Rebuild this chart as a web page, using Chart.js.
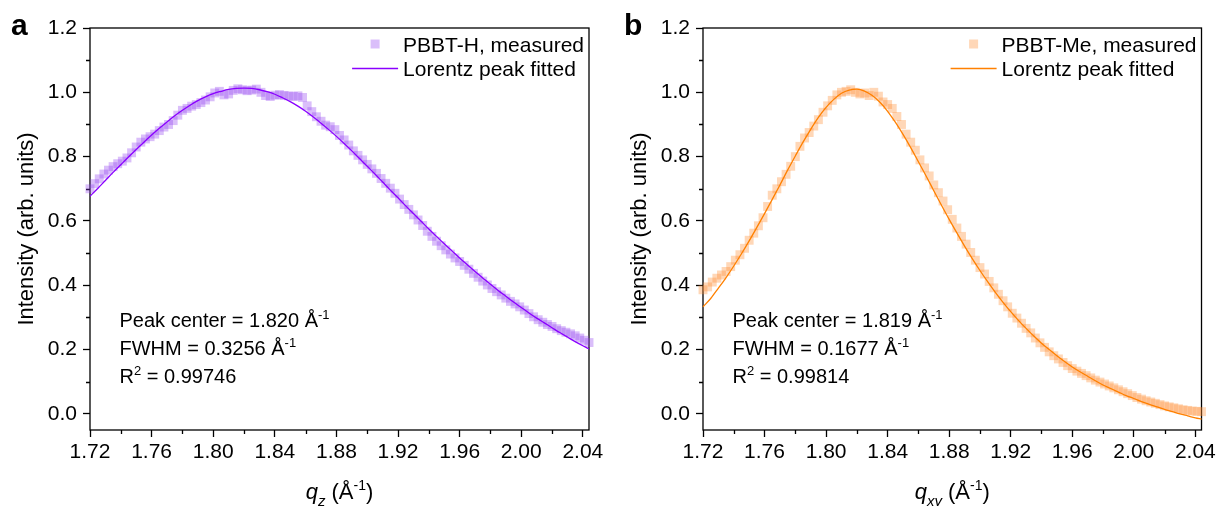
<!DOCTYPE html>
<html><head><meta charset="utf-8">
<script src="https://cdn.jsdelivr.net/npm/chart.js@4.4.1/dist/chart.umd.min.js"></script>
<style>
html,body{margin:0;padding:0;background:#fff;}
#wrap{position:relative;width:1219px;height:506px;background:#fff;}
canvas{position:absolute;top:0;}
</style></head><body>
<div id="wrap">
<canvas id="ca" width="610" height="506" style="left:0;width:610px;height:506px"></canvas>
<canvas id="cb" width="609" height="506" style="left:610px;width:609px;height:506px"></canvas>
</div>
<script>
// ---------- data ----------
const qMeasured = [1.720,1.723,1.726,1.729,1.732,1.735,1.738,1.741,1.744,1.747,1.750,1.753,1.756,1.759,1.762,1.765,1.768,1.771,1.774,1.777,1.780,1.783,1.786,1.789,1.792,1.795,1.798,1.801,1.804,1.807,1.810,1.813,1.816,1.819,1.822,1.825,1.828,1.831,1.834,1.837,1.840,1.843,1.846,1.849,1.852,1.855,1.858,1.861,1.864,1.867,1.870,1.873,1.876,1.879,1.882,1.885,1.888,1.891,1.894,1.897,1.900,1.903,1.906,1.909,1.912,1.915,1.918,1.921,1.924,1.927,1.930,1.933,1.936,1.939,1.942,1.945,1.948,1.951,1.954,1.957,1.960,1.963,1.966,1.969,1.972,1.975,1.978,1.981,1.984,1.987,1.990,1.993,1.996,1.999,2.002,2.005,2.008,2.011,2.014,2.017,2.020,2.023,2.026,2.029,2.032,2.035,2.038,2.041,2.044];
const pbbtH = [0.700,0.716,0.731,0.746,0.758,0.769,0.778,0.786,0.796,0.812,0.830,0.845,0.855,0.862,0.870,0.881,0.892,0.900,0.912,0.929,0.944,0.950,0.957,0.962,0.968,0.976,0.986,0.998,1.003,0.992,0.995,1.006,1.011,1.008,1.005,1.007,1.010,1.000,0.990,0.987,0.991,0.993,0.990,0.989,0.987,0.989,0.984,0.958,0.940,0.924,0.910,0.898,0.893,0.884,0.866,0.852,0.836,0.818,0.804,0.790,0.776,0.762,0.748,0.732,0.717,0.702,0.686,0.668,0.651,0.636,0.619,0.603,0.586,0.568,0.552,0.537,0.523,0.510,0.497,0.485,0.474,0.462,0.450,0.437,0.425,0.413,0.401,0.390,0.380,0.370,0.360,0.350,0.342,0.333,0.323,0.312,0.302,0.293,0.285,0.278,0.272,0.265,0.259,0.254,0.249,0.243,0.236,0.229,0.222];
const pbbtMe = [0.386,0.395,0.410,0.422,0.432,0.443,0.458,0.478,0.495,0.515,0.540,0.562,0.585,0.610,0.645,0.680,0.700,0.722,0.745,0.770,0.800,0.832,0.858,0.875,0.895,0.915,0.938,0.958,0.975,0.992,1.000,1.003,1.008,1.000,0.995,0.998,0.990,1.000,0.988,0.970,0.962,0.950,0.925,0.900,0.870,0.845,0.820,0.790,0.765,0.740,0.712,0.688,0.662,0.635,0.605,0.578,0.552,0.528,0.502,0.478,0.455,0.435,0.412,0.392,0.372,0.352,0.333,0.313,0.298,0.282,0.266,0.252,0.236,0.221,0.207,0.193,0.181,0.171,0.160,0.150,0.141,0.133,0.126,0.119,0.112,0.105,0.099,0.093,0.087,0.081,0.075,0.069,0.063,0.057,0.051,0.046,0.041,0.037,0.033,0.029,0.025,0.022,0.019,0.016,0.013,0.011,0.009,0.008,0.007];
const qFit = [1.720,1.725,1.730,1.735,1.740,1.745,1.750,1.755,1.760,1.765,1.770,1.775,1.780,1.785,1.790,1.795,1.800,1.805,1.810,1.815,1.820,1.825,1.830,1.835,1.840,1.845,1.850,1.855,1.860,1.865,1.870,1.875,1.880,1.885,1.890,1.895,1.900,1.905,1.910,1.915,1.920,1.925,1.930,1.935,1.940,1.945,1.950,1.955,1.960,1.965,1.970,1.975,1.980,1.985,1.990,1.995,2.000,2.005,2.010,2.015,2.020,2.025,2.030,2.035,2.040,2.044];
const fitH = [0.677,0.701,0.726,0.751,0.775,0.799,0.822,0.845,0.867,0.888,0.908,0.927,0.944,0.960,0.974,0.986,0.996,1.003,1.009,1.012,1.013,1.012,1.008,1.002,0.994,0.983,0.971,0.957,0.941,0.923,0.904,0.884,0.863,0.841,0.818,0.794,0.770,0.746,0.721,0.696,0.672,0.647,0.623,0.599,0.575,0.552,0.529,0.507,0.485,0.464,0.443,0.423,0.403,0.384,0.366,0.348,0.331,0.314,0.298,0.283,0.268,0.253,0.239,0.225,0.212,0.202];
const fitMe = [0.333,0.359,0.391,0.424,0.460,0.498,0.538,0.580,0.623,0.667,0.712,0.758,0.802,0.845,0.885,0.922,0.953,0.978,0.997,1.007,1.010,1.004,0.990,0.969,0.941,0.907,0.869,0.828,0.784,0.740,0.694,0.649,0.605,0.563,0.522,0.483,0.446,0.411,0.378,0.347,0.318,0.291,0.266,0.242,0.220,0.200,0.181,0.163,0.146,0.131,0.117,0.103,0.090,0.079,0.068,0.057,0.048,0.038,0.030,0.022,0.014,0.007,0.000,-0.006,-0.012,-0.016];
const xTicks = [1.72,1.76,1.80,1.84,1.88,1.92,1.96,2.00,2.04];
const xMinorTicks = [1.74,1.78,1.82,1.86,1.90,1.94,1.98,2.02];
const yTicks = [0.0,0.2,0.4,0.6,0.8,1.0,1.2];
const yMinorTicks = [0.1,0.3,0.5,0.7,0.9,1.1];
const xRange = [1.72, 2.044];
const yRange = [-0.05, 1.2];

// ---------- helpers ----------
const FAM = '"Liberation Sans", Arial, Helvetica, sans-serif';
function fontStr(s){ return (s.italic?'italic ':'')+(s.bold?'bold ':'')+s.size+'px '+FAM; }
function richWidth(ctx, segs){ let w=0; for(const s of segs){ ctx.font=fontStr(s); w+=ctx.measureText(s.t).width; } return w; }
function drawRich(ctx, segs, x, y){
  for(const s of segs){ ctx.font=fontStr(s); ctx.fillText(s.t, x, y+(s.dy||0)); x+=ctx.measureText(s.t).width; }
}
const sup = t => ({t, size:13, dy:-8});

function decorPlugin(cfg){
  return {
    id:'decor'+cfg.letter,
    beforeDatasetsDraw(chart){
      const ctx=chart.ctx, a=chart.chartArea, xs=chart.scales.x, ys=chart.scales.y;
      ctx.save();
      ctx.strokeStyle='#000'; ctx.lineWidth=1.3;
      ctx.strokeRect(a.left, a.top, a.right-a.left, a.bottom-a.top);
      // minor ticks
      ctx.beginPath();
      for(const v of xMinorTicks){ const p=Math.round(xs.getPixelForValue(v))+0.5; ctx.moveTo(p,a.bottom); ctx.lineTo(p,a.bottom+4); }
      for(const v of yMinorTicks){ const p=Math.round(ys.getPixelForValue(v))+0.5; ctx.moveTo(a.left,p); ctx.lineTo(a.left-4,p); }
      ctx.stroke();
      ctx.restore();
    },
    afterDraw(chart){
      const ctx=chart.ctx, a=chart.chartArea;
      ctx.save();
      ctx.fillStyle='#000'; ctx.textAlign='left'; ctx.textBaseline='alphabetic';
      // panel letter
      ctx.font='bold 30px '+FAM;
      ctx.fillText(cfg.letter, a.left-79, 35);
      // y title
      ctx.save();
      ctx.translate(a.left-57, (a.top+a.bottom)/2);
      ctx.rotate(-Math.PI/2);
      ctx.textAlign='center';
      ctx.font='22px '+FAM;
      ctx.fillText('Intensity (arb. units)', 0, 0);
      ctx.restore();
      // x title
      const xt=[{t:'q',size:22,italic:true},{t:cfg.sub,size:15,italic:true,dy:7},{t:' (Å',size:22},{t:'-1',size:14,dy:-9},{t:')',size:22}];
      const w=richWidth(ctx,xt);
      drawRich(ctx, xt, (a.left+a.right)/2 - w/2, 499);
      // annotations
      const ax=a.left+29.5;
      const lines=[
        [{t:'Peak center = '+cfg.center+' Å',size:20},sup('-1')],
        [{t:'FWHM = '+cfg.fwhm+' Å',size:20},sup('-1')],
        [{t:'R',size:20},{t:'2',size:13,dy:-8},{t:' = '+cfg.r2,size:20}]
      ];
      const bl=[327,355,383];
      lines.forEach((l,i)=>drawRich(ctx,l,ax,bl[i]));
      // legend
      const ds=chart.data.datasets;
      ctx.font='21px '+FAM;
      const maxW=Math.max(...ds.map(d=>ctx.measureText(d.label).width));
      const tx=a.right-5-maxW;
      const m=ds.find(d=>d.kind==='measured'), f=ds.find(d=>d.kind==='fit');
      ctx.fillStyle=m.backgroundColor;
      ctx.fillRect(tx-28-4.5, 44-4.5, 9, 9);
      ctx.fillStyle='#000';
      ctx.fillText(m.label, tx, 51.5);
      ctx.strokeStyle=f.borderColor; ctx.lineWidth=1.5;
      ctx.beginPath(); ctx.moveTo(tx-51,68.5); ctx.lineTo(tx-5,68.5); ctx.stroke();
      ctx.fillText(f.label, tx, 75.5);
      ctx.restore();
    }
  };
}

function makeChart(id, cfg){
  const measuredPts = qMeasured.map((q,i)=>({x:q,y:cfg.measured[i]}));
  const fitPts = qFit.map((q,i)=>({x:q,y:cfg.fit[i]}));
  const tickFont={family:FAM,size:21};
  return new Chart(document.getElementById(id),{
    type:'scatter',
    data:{datasets:[
      {kind:'fit',label:'Lorentz peak fitted',data:fitPts,showLine:true,pointRadius:0,borderColor:cfg.lineColor,borderWidth:1.3,cubicInterpolationMode:'monotone',order:0,clip:false},
      {kind:'measured',label:cfg.label,data:measuredPts,showLine:false,pointStyle:'rect',pointRadius:6.3,borderWidth:0,backgroundColor:cfg.pointColor,pointBackgroundColor:cfg.pointColor,pointBorderWidth:0,order:1,clip:false}
    ]},
    options:{
      responsive:false, animation:false, devicePixelRatio:1, events:[],
      layout:{padding:{left:0,right:cfg.padRight,top:28,bottom:0}},
      plugins:{legend:{display:false},tooltip:{enabled:false}},
      scales:{
        x:{type:'linear',min:xRange[0],max:xRange[1],
          afterBuildTicks:s=>{s.ticks=xTicks.map(v=>({value:v}));},
          afterFit:s=>{s.height=76;},
          grid:{drawOnChartArea:false,drawTicks:true,tickLength:7,tickWidth:1.3,tickColor:'#000'},
          border:{display:false},
          ticks:{font:tickFont,color:'#000',padding:3,autoSkip:false,maxRotation:0,callback:v=>Number(v).toFixed(2)}},
        y:{type:'linear',min:yRange[0],max:yRange[1],
          afterBuildTicks:s=>{s.ticks=yTicks.map(v=>({value:v}));},
          afterFit:s=>{s.width=cfg.yWidth;},
          grid:{drawOnChartArea:false,drawTicks:true,tickLength:7,tickWidth:1.3,tickColor:'#000'},
          border:{display:false},
          ticks:{font:tickFont,color:'#000',padding:6,autoSkip:false,callback:v=>Number(v).toFixed(1)}}
      }
    },
    plugins:[decorPlugin(cfg)]
  });
}

makeChart('ca',{letter:'a',sub:'z',label:'PBBT-H, measured',measured:pbbtH,fit:fitH,
  pointColor:'rgba(150,70,240,0.35)',lineColor:'#8a00ff',center:'1.820',fwhm:'0.3256',r2:'0.99746',yWidth:90,padRight:21});
makeChart('cb',{letter:'b',sub:'xy',label:'PBBT-Me, measured',measured:pbbtMe,fit:fitMe,
  pointColor:'rgba(255,140,50,0.35)',lineColor:'#ff8000',center:'1.819',fwhm:'0.1677',r2:'0.99814',yWidth:93,padRight:17});
</script>
</body></html>
